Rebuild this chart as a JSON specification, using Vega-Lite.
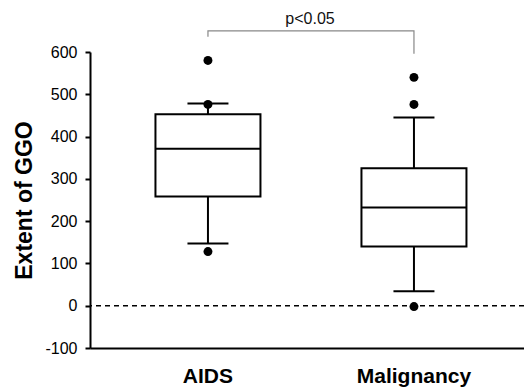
{
  "$schema": "https://vega.github.io/schema/vega-lite/v6.json",
  "width": 434,
  "height": 296,
  "autosize": "none",
  "padding": {"left": 90, "top": 52, "right": 0, "bottom": 42},
  "background": "white",
  "config": {
    "view": {"stroke": null},
    "font": "Liberation Sans",
    "axis": {"grid": false, "domainColor": "#000", "domainWidth": 2, "tickColor": "#000", "tickWidth": 2, "labelColor": "#000", "titleColor": "#000", "labelFont": "Liberation Sans", "titleFont": "Liberation Sans"}
  },
  "title": {"text": "p<0.05", "fontSize": 16, "fontWeight": "normal", "font": "Liberation Sans", "color": "#111", "anchor": "middle", "frame": "group", "baseline": "alphabetic", "offset": -12, "dx": 3},
  "datasets": {
    "boxes": [
      {"group": "AIDS", "lo": 147, "q1": 258, "med": 371, "q3": 453, "hi": 478},
      {"group": "Malignancy", "lo": 34, "q1": 140, "med": 232, "q3": 325, "hi": 445}
    ],
    "outliers": [
      {"group": "AIDS", "value": 580},
      {"group": "AIDS", "value": 476},
      {"group": "AIDS", "value": 128},
      {"group": "Malignancy", "value": 540},
      {"group": "Malignancy", "value": 476},
      {"group": "Malignancy", "value": -2}
    ],
    "bracket": [
      {"group": "AIDS", "value": 636, "order": 1},
      {"group": "AIDS", "value": 650, "order": 2},
      {"group": "Malignancy", "value": 650, "order": 3},
      {"group": "Malignancy", "value": 596, "order": 4}
    ]
  },
  "layer": [
    {
      "data": {"values": [{"v": 0}]},
      "mark": {"type": "rule", "color": "#000", "strokeWidth": 1.5, "strokeDash": [5, 4]},
      "encoding": {
        "y": {"field": "v", "type": "quantitative", "scale": {"domain": [-100, 600], "nice": false, "zero": false},
          "axis": {"values": [-100, 0, 100, 200, 300, 400, 500, 600], "labelExpr": "'' + datum.value", "tickSize": 5, "labelPadding": 8, "labelFontSize": 16, "title": "Extent of GGO", "titleFontSize": 23, "titleFontWeight": "bold", "titlePadding": 8}}
      }
    },
    {
      "data": {"name": "boxes"},
      "mark": {"type": "rule", "color": "#000", "strokeWidth": 2},
      "encoding": {
        "x": {"field": "group", "type": "nominal", "scale": {"type": "band", "domain": ["AIDS", "Malignancy"], "paddingInner": 0, "paddingOuter": 0.0534, "align": 0.68},
          "axis": {"title": null, "ticks": false, "labelAngle": 0, "labelFontSize": 21, "labelFontWeight": "bold", "labelPadding": 17}},
        "y": {"field": "lo", "type": "quantitative"},
        "y2": {"field": "hi"}
      }
    },
    {
      "data": {"name": "boxes"},
      "mark": {"type": "bar", "fill": "white", "stroke": "#000", "strokeWidth": 2, "size": 105, "opacity": 1},
      "encoding": {
        "x": {"field": "group", "type": "nominal"},
        "y": {"field": "q1", "type": "quantitative"},
        "y2": {"field": "q3"}
      }
    },
    {
      "data": {"name": "boxes"},
      "mark": {"type": "tick", "color": "#000", "opacity": 1, "thickness": 2, "size": 105, "orient": "horizontal"},
      "encoding": {
        "x": {"field": "group", "type": "nominal"},
        "y": {"field": "med", "type": "quantitative"}
      }
    },
    {
      "data": {"name": "boxes"},
      "mark": {"type": "tick", "color": "#000", "opacity": 1, "thickness": 2, "size": 41, "orient": "horizontal"},
      "encoding": {
        "x": {"field": "group", "type": "nominal"},
        "y": {"field": "lo", "type": "quantitative"}
      }
    },
    {
      "data": {"name": "boxes"},
      "mark": {"type": "tick", "color": "#000", "opacity": 1, "thickness": 2, "size": 41, "orient": "horizontal"},
      "encoding": {
        "x": {"field": "group", "type": "nominal"},
        "y": {"field": "hi", "type": "quantitative"}
      }
    },
    {
      "data": {"name": "outliers"},
      "mark": {"type": "point", "filled": true, "color": "#000", "opacity": 1, "size": 80},
      "encoding": {
        "x": {"field": "group", "type": "nominal"},
        "y": {"field": "value", "type": "quantitative"}
      }
    },
    {
      "data": {"name": "bracket"},
      "mark": {"type": "line", "color": "#888", "strokeWidth": 1.2},
      "encoding": {
        "x": {"field": "group", "type": "nominal"},
        "y": {"field": "value", "type": "quantitative"},
        "order": {"field": "order", "type": "quantitative"}
      }
    }
  ]
}
